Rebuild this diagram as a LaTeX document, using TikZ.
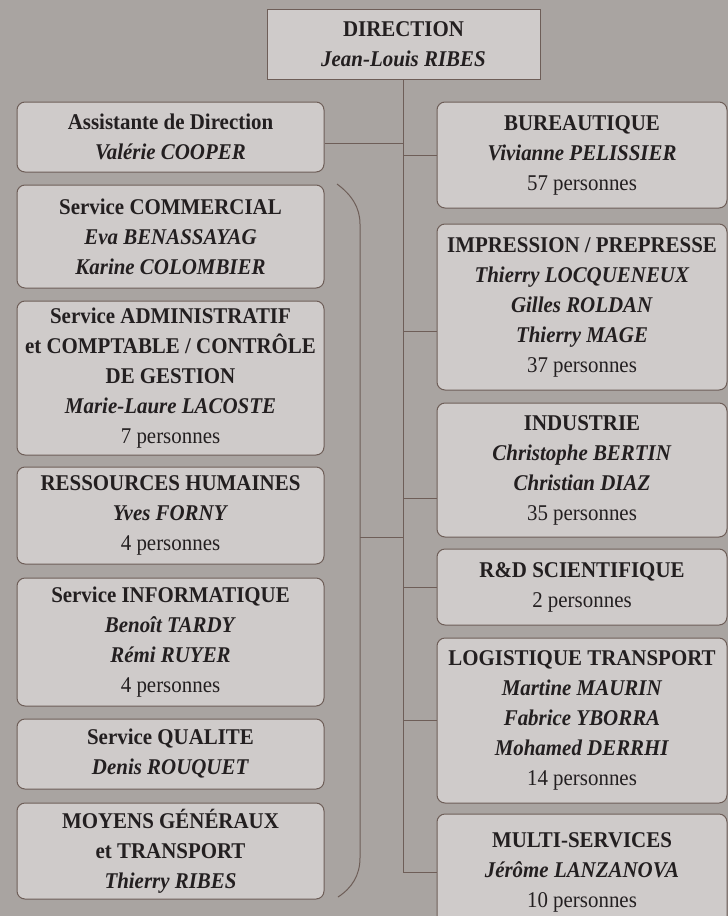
\documentclass[tikz,border=0pt]{standalone}
\usepackage{fontspec}
\setmainfont[FakeStretch=0.93]{Liberation Serif}
\usepackage{tikz}
\usetikzlibrary{positioning}
\usetikzlibrary{calc}
\definecolor{backgr}{HTML}{A9A4A1}
\definecolor{boxfill}{HTML}{CFCBCA}
\definecolor{boxline}{HTML}{6E5E58}
\definecolor{ink}{HTML}{231F20}
\tikzset{unit/.style={draw=boxline, fill=boxfill, line width=1pt, rounded corners=8pt, align=center, inner sep=0pt, text=ink, font=\fontsize{22.5}{30}\selectfont}}
\tikzset{link/.style={draw=boxline, line width=1pt}}
\newcommand{\pers}[1]{\textbf{\textit{#1}}}

\begin{document}
\begin{tikzpicture}[x=1pt,y=-1pt]
\def\lx{170.5}
\def\lw{307}
\def\rx{582}
\def\rw{290}

\fill[backgr] (0,0) rectangle (728,916);
\useasboundingbox (0,0) rectangle (728,916);

\node[unit, rounded corners=0pt, minimum width=273pt, minimum height=70pt] (dir) at (403.5,44) {\textbf{DIRECTION}\\ \pers{Jean-Louis RIBES}};

% left column
\node[unit, minimum width=\lw pt, minimum height=70pt] (assist) at (\lx,137) {\textbf{Assistante de Direction}\\ \pers{Valérie COOPER}};
\node[unit, minimum width=\lw pt, minimum height=103pt] (comm) at (\lx,236.5) {\textbf{Service COMMERCIAL}\\ \pers{Eva BENASSAYAG}\\ \pers{Karine COLOMBIER}};
\node[unit, minimum width=\lw pt, minimum height=154pt] (admin) at (\lx,378) {\textbf{Service ADMINISTRATIF}\\ \textbf{et COMPTABLE / CONTRÔLE}\\ \textbf{DE GESTION}\\ \pers{Marie-Laure LACOSTE}\\ 7 personnes};
\node[unit, minimum width=\lw pt, minimum height=97pt] (rh) at (\lx,515.5) {\textbf{RESSOURCES HUMAINES}\\ \pers{Yves FORNY}\\ 4 personnes};
\node[unit, minimum width=\lw pt, minimum height=128pt] (info) at (\lx,642) {\textbf{Service INFORMATIQUE}\\ \pers{Benoît TARDY}\\ \pers{Rémi RUYER}\\ 4 personnes};
\node[unit, minimum width=\lw pt, minimum height=70pt] (qual) at (\lx,754) {\textbf{Service QUALITE}\\ \pers{Denis ROUQUET}};
\node[unit, minimum width=\lw pt, minimum height=96pt] (moyens) at (\lx,851) {\textbf{MOYENS GÉNÉRAUX}\\ \textbf{et TRANSPORT}\\ \pers{Thierry RIBES}};

% right column
\node[unit, minimum width=\rw pt, minimum height=106pt] (bureau) at (\rx,155) {\textbf{BUREAUTIQUE}\\ \pers{Vivianne PELISSIER}\\ 57 personnes};
\node[unit, minimum width=\rw pt, minimum height=166pt] (impr) at (\rx,307) {\textbf{IMPRESSION / PREPRESSE}\\ \pers{Thierry LOCQUENEUX}\\ \pers{Gilles ROLDAN}\\ \pers{Thierry MAGE}\\ 37 personnes};
\node[unit, minimum width=\rw pt, minimum height=134pt] (indus) at (\rx,470) {\textbf{INDUSTRIE}\\ \pers{Christophe BERTIN}\\ \pers{Christian DIAZ}\\ 35 personnes};
\node[unit, minimum width=\rw pt, minimum height=76pt] (rd) at (\rx,587) {\textbf{R\&D SCIENTIFIQUE}\\ 2 personnes};
\node[unit, minimum width=\rw pt, minimum height=165pt] (logi) at (\rx,720.5) {\textbf{LOGISTIQUE TRANSPORT}\\ \pers{Martine MAURIN}\\ \pers{Fabrice YBORRA}\\ \pers{Mohamed DERRHI}\\ 14 personnes};
\node[unit, minimum width=\rw pt, minimum height=116pt] (multi) at (\rx,872) {\textbf{MULTI-SERVICES}\\ \pers{Jérôme LANZANOVA}\\ 10 personnes};

% trunk and branches
\draw[link] (dir.south) -- (dir.south |- multi.west) -- (multi.west);
\draw[link] ([yshift=-6pt]assist.east) -- ([yshift=-6pt]assist.east -| dir.south);
\draw[link] (bureau.west) -- (bureau.west -| dir.south);
\draw[link] ([yshift=-24pt]impr.west) -- ([yshift=-24pt]impr.west -| dir.south);
\draw[link] ([yshift=-28pt]indus.west) -- ([yshift=-28pt]indus.west -| dir.south);
\draw[link] (rd.west) -- (rd.west -| dir.south);
\draw[link] (logi.west) -- (logi.west -| dir.south);

% bracket round the services
\coordinate (brtop) at (337,184);
\coordinate (brbot) at (338,897);
\coordinate (brmid) at (360,537);
\draw[link] (brtop) .. controls (352,195) and (360,208) .. (360,224) -- (360,858) .. controls (360,875) and (352,888) .. (brbot);
\draw[link] (brmid) -- (brmid -| dir.south);
\end{tikzpicture}
\end{document}
